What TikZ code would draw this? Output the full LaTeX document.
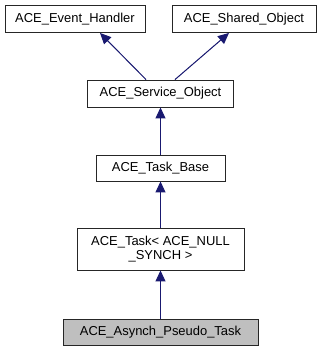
\documentclass[tikz,border=0pt]{standalone}
\usepackage{fontspec}
\setmainfont{Liberation Sans}
\usetikzlibrary{arrows.meta}
\definecolor{edgeblue}{HTML}{191970}
\definecolor{boxgray}{HTML}{BFBFBF}
\begin{document}
\begin{tikzpicture}[x=1bp,y=-1bp,
  cls/.style={draw=black!85, line width=0.9bp, fill=white, inner sep=0pt, align=center, font=\fontsize{13}{14.5}\selectfont},
  inh/.style={draw=edgeblue, line width=1bp, -{Triangle[width=10bp,length=11bp]}, fill=edgeblue}]
\useasboundingbox (0,0) rectangle (323,351);
\node[cls, minimum width=140bp, minimum height=27bp] (eh) at (75,19) {ACE\_Event\_Handler};
\node[cls, minimum width=144bp, minimum height=27bp] (so) at (244,19) {ACE\_Shared\_Object};
\node[cls, minimum width=146bp, minimum height=27bp] (svc) at (160.5,93.5) {ACE\_Service\_Object};
\node[cls, minimum width=129bp, minimum height=26bp] (tb) at (160.5,168) {ACE\_Task\_Base};
\node[cls, minimum width=167bp, minimum height=42bp] (task) at (160.5,249) {ACE\_Task< ACE\_NULL\\\_SYNCH >};
\node[cls, fill=boxgray, minimum width=195bp, minimum height=26bp] (apt) at (160.5,332) {ACE\_Asynch\_Pseudo\_Task};
\draw[inh] ([xshift=-14.5bp]svc.north) -- ([xshift=25bp]eh.south);
\draw[inh] ([xshift=14.5bp]svc.north) -- ([xshift=-15bp]so.south);
\draw[inh] (tb.north) -- (svc.south);
\draw[inh] (task.north) -- (tb.south);
\draw[inh] (apt.north) -- (task.south);
\end{tikzpicture}
\end{document}
